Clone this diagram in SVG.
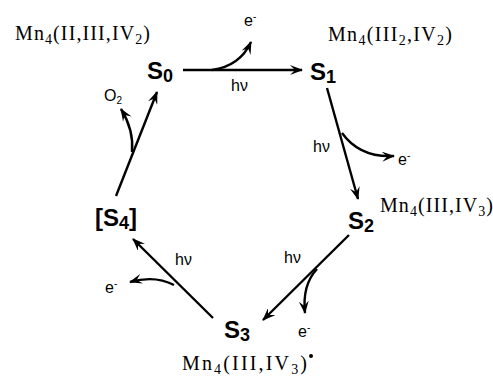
<svg xmlns="http://www.w3.org/2000/svg" width="493" height="379" viewBox="0 0 493 379">
<style>
.s{font-family:"Liberation Sans",Arial,sans-serif;font-weight:bold;font-size:24px;fill:#000}
.sub{font-size:18px}
.m{font-family:"Liberation Serif","Times New Roman",serif;font-size:20px;fill:#000}
.msub{font-size:14px}
.t{font-family:"Liberation Sans",Arial,sans-serif;font-size:16px;fill:#000}
.sup{font-size:10px}
.ln{fill:none;stroke:#000;stroke-width:2.4}
</style>
<defs>
<marker id="ah" viewBox="0 0 13 10" refX="12" refY="5" markerWidth="13" markerHeight="10" markerUnits="userSpaceOnUse" orient="auto">
<path d="M0,0 L13,5 L0,10 L5,5 Z" fill="#000"/>
</marker>
</defs>
<g id="connectors">
<path class="ln" d="M183,70 L302,70" marker-end="url(#ah)"/>
<path class="ln" d="M212,70 Q240,66 251,42" marker-end="url(#ah)"/>
<path class="ln" d="M327,88 L358,199" marker-end="url(#ah)"/>
<path class="ln" d="M342,133 Q360,158 394,156" marker-end="url(#ah)"/>
<path class="ln" d="M349,235 L263,320" marker-end="url(#ah)"/>
<path class="ln" d="M317,269 Q302,285 305,313" marker-end="url(#ah)"/>
<path class="ln" d="M213,318 L133,239" marker-end="url(#ah)"/>
<path class="ln" d="M174,285 Q155,275 130,282" marker-end="url(#ah)"/>
<path class="ln" d="M116,196 L157,92" marker-end="url(#ah)"/>
<path class="ln" d="M132,152 Q134,130 121,109" marker-end="url(#ah)"/>
</g>
<g id="S0"><text class="s" x="147" y="79">S<tspan class="sub" dy="3">0</tspan></text></g>
<g id="S1"><text class="s" x="310" y="80">S<tspan class="sub" dy="3">1</tspan></text></g>
<g id="S2"><text class="s" x="348" y="229">S<tspan class="sub" dy="3">2</tspan></text></g>
<g id="S3"><text class="s" x="224" y="338">S<tspan class="sub" dy="3">3</tspan></text></g>
<g id="S4"><text class="s" x="95" y="226">[S<tspan class="sub" dy="3">4</tspan><tspan dy="-3">]</tspan></text></g>
<g id="labels">
<text class="m" x="15" y="40" textLength="135" lengthAdjust="spacing">Mn<tspan class="msub" dy="4">4</tspan><tspan dy="-4">(II,III,IV</tspan><tspan class="msub" dy="4">2</tspan><tspan dy="-4">)</tspan></text>
<text class="m" x="328" y="41" textLength="124" lengthAdjust="spacing">Mn<tspan class="msub" dy="4">4</tspan><tspan dy="-4">(III</tspan><tspan class="msub" dy="4">2</tspan><tspan dy="-4">,IV</tspan><tspan class="msub" dy="4">2</tspan><tspan dy="-4">)</tspan></text>
<text class="m" x="380" y="212" textLength="113" lengthAdjust="spacing">Mn<tspan class="msub" dy="4">4</tspan><tspan dy="-4">(III,IV</tspan><tspan class="msub" dy="4">3</tspan><tspan dy="-4">)</tspan></text>
<text class="m" x="182" y="370" textLength="125" lengthAdjust="spacing">Mn<tspan class="msub" dy="4">4</tspan><tspan dy="-4">(III,IV</tspan><tspan class="msub" dy="4">3</tspan><tspan dy="-4">)</tspan></text>
<circle cx="311" cy="356" r="2" fill="#000"/>
<text class="t" x="244" y="26">e<tspan class="sup" dy="-6">-</tspan></text>
<text class="t" x="231" y="91">hν</text>
<text class="t" x="313" y="152">hν</text>
<text class="t" x="398" y="165">e<tspan class="sup" dy="-6">-</tspan></text>
<text class="t" x="284" y="263">hν</text>
<text class="t" x="298" y="337">e<tspan class="sup" dy="-6">-</tspan></text>
<text class="t" x="175" y="265">hν</text>
<text class="t" x="105" y="293">e<tspan class="sup" dy="-6">-</tspan></text>
<text class="t" x="104" y="101">O<tspan class="sup" font-size="11" dy="3">2</tspan></text>
</g>
</svg>
